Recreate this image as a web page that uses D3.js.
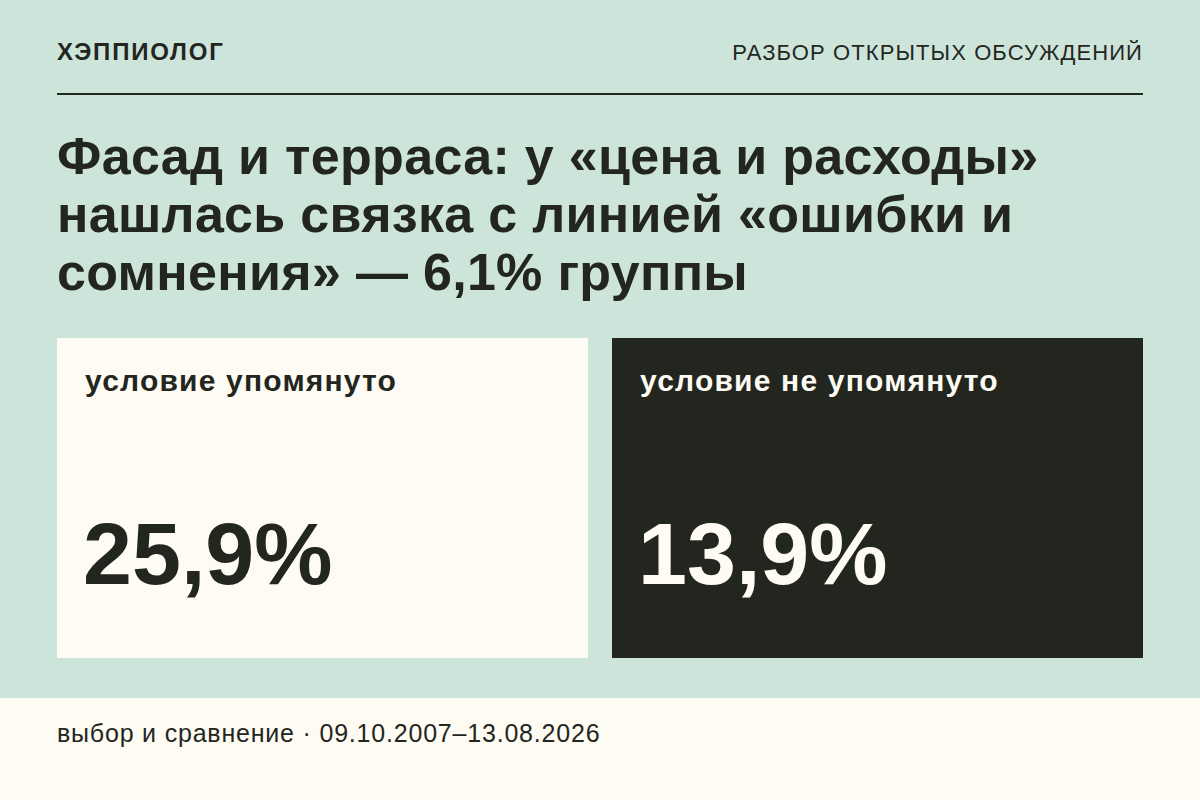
<!DOCTYPE html>
<html><head><meta charset="utf-8">
<script src="https://cdn.jsdelivr.net/npm/d3@7"></script>
<style>body{margin:0;background:#cde4da;} text{font-family:"Liberation Sans",Arial,sans-serif;}</style>
</head><body><div id="chart"></div>
<script>
var brand = "ХЭППИОЛОГ";
var section = "РАЗБОР ОТКРЫТЫХ ОБСУЖДЕНИЙ";
var titleLines = ["Фасад и терраса: у «цена и расходы»", "нашлась связка с линией «ошибки и", "сомнения» — 6,1% группы"];
var categories = ["условие упомянуто", "условие не упомянуто"];
var values = [25.9, 13.9];
var footer = "выбор и сравнение · 09.10.2007–13.08.2026";

var W = 1200, H = 800, ink = "#23261f";
var svg = d3.select("#chart").append("svg").attr("width", W).attr("height", H);
svg.append("rect").attr("width", W).attr("height", H).attr("fill", "#cde4da");

svg.append("text").attr("x", 57).attr("y", 60).attr("font-size", 24).attr("font-weight", "bold")
    .attr("letter-spacing", 1.8).attr("fill", ink).text(brand);
svg.append("text").attr("x", 1143).attr("y", 60).attr("font-size", 22).attr("text-anchor", "end")
    .attr("letter-spacing", 1.1).attr("fill", ink).text(section);
svg.append("rect").attr("x", 57).attr("y", 93).attr("width", 1086).attr("height", 2).attr("fill", ink);

svg.selectAll(".title").data(titleLines).enter().append("text")
    .attr("x", 57).attr("y", (d, i) => 174 + i * 58)
    .attr("font-size", 52).attr("font-weight", "bold").attr("letter-spacing", 0.3)
    .attr("fill", ink).text(d => d);

var x = d3.scaleBand().domain(categories).range([57, 1143]).paddingInner(24 / 555);
var fmt = v => d3.format(".1f")(v).replace(".", ",") + "%";
var g = svg.selectAll(".card").data(categories).enter().append("g")
    .attr("transform", d => `translate(${x(d)},338)`);
g.append("rect").attr("width", x.bandwidth()).attr("height", 320)
    .attr("fill", (d, i) => i ? "#23261f" : "#fdfbf3");
g.append("text").attr("x", 28).attr("y", 53).attr("font-size", 30).attr("font-weight", "bold")
    .attr("letter-spacing", 1.2).attr("fill", (d, i) => i ? "#fdfbf3" : ink).text(d => d);
g.append("text").attr("x", 26).attr("y", 246).attr("font-size", 88).attr("font-weight", "bold")
    .attr("fill", (d, i) => i ? "#fdfbf3" : ink).text((d, i) => fmt(values[i]));

svg.append("rect").attr("y", 698).attr("width", W).attr("height", 102).attr("fill", "#fdfbf2");
svg.append("text").attr("x", 57).attr("y", 742).attr("font-size", 25).attr("letter-spacing", 0.8)
    .attr("fill", ink).text(footer);
</script></body></html>
